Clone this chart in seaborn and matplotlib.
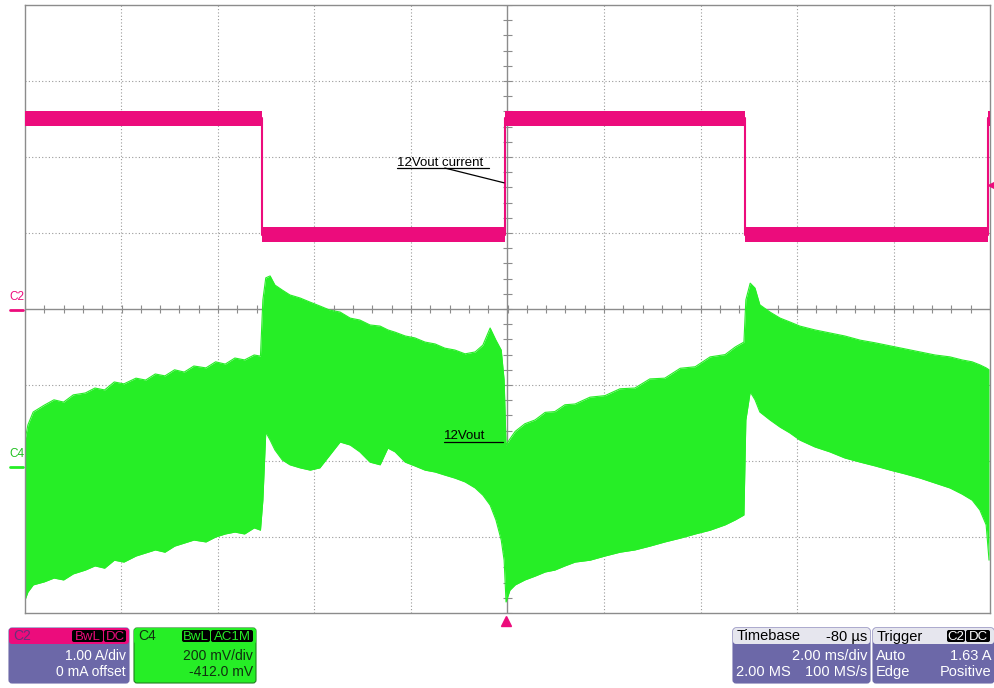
import numpy as np
import matplotlib.pyplot as plt
import seaborn as sns
from matplotlib.patches import FancyBboxPatch

sns.set_style('white')
plt.rcParams['font.family'] = ['Liberation Sans', 'DejaVu Sans']

PINK = '#ec0c7c'
GREEN = '#26ee26'
PURPLE = '#6c68a8'
GRIDC = '#9a9a9a'

# ---- C2 : 12Vout current (1.00 A/div, 0 mA offset) ----
i_edges_ms = [-5.09, -0.05, 4.92, 9.96]   # fall, rise, fall, rise
i_high = 2.51      # A
i_low = 0.98       # A
i_noise = 0.10     # half height of the noisy band, A

# ---- C4 : 12Vout ripple (200 mV/div, offset -412 mV), trace envelope ----
c4_offset_mv = -412
c4_mv_per_div = 200
v_t_ms = [-10.0, -9.94, -9.83, -9.6, -9.4, -9.2, -9.0, -8.75, -8.55, -8.35, -8.15, -7.95, -7.7,
          -7.5, -7.3, -7.1, -6.9, -6.7, -6.5, -6.25, -6.05, -5.85, -5.65, -5.45, -5.25, -5.12,
          -5.07, -5.01, -4.92, -4.82, -4.67, -4.51, -4.30, -4.09, -3.89, -3.68, -3.47, -3.26,
          -3.06, -2.85, -2.64, -2.48, -2.33, -2.12, -1.92, -1.71, -1.50, -1.30, -1.09, -0.88,
          -0.67, -0.51, -0.36, -0.24, -0.13, -0.07,
          -0.03, 0.05, 0.16, 0.36, 0.57, 0.78, 0.98, 1.19, 1.40, 1.71, 2.02, 2.33, 2.64, 2.95,
          3.26, 3.58, 3.89, 4.20, 4.51, 4.72, 4.90,
          4.94, 5.03, 5.13, 5.23, 5.44, 5.65, 5.85, 6.06, 6.37, 6.68, 6.99, 7.31, 7.62, 7.93,
          8.24, 8.55, 8.86, 9.17, 9.42, 9.63, 9.79, 9.92, 9.98]
v_hi_mv = [67, 107, 141, 159, 173, 167, 186, 191, 204, 199, 220, 215, 230,
           225, 241, 236, 252, 246, 262, 257, 273, 267, 283, 278, 291, 288,
           436, 494, 499, 475, 462, 449, 441, 430, 420, 409, 404, 388,
           383, 370, 367, 357, 351, 341, 336, 325, 320, 309, 304, 294,
           299, 317, 362, 330, 304, 225,
           54, 70, 90, 110, 120, 140, 142, 160, 162, 180, 184, 202, 204, 228,
           230, 256, 260, 286, 292, 312, 325,
           436, 480, 467, 423, 404, 388, 378, 367, 357, 349, 341, 330, 323, 315,
           307, 299, 291, 286, 278, 273, 265, 257, 252]
v_lo_mv = [-354, -333, -314, -306, -296, -301, -285, -275, -264, -270, -249, -254, -238,
           -230, -222, -228, -212, -204, -196, -201, -188, -180, -175, -180, -164, -170,
           -91, 88, 67, 41, 15, 2, -6, -12, -6, 28, 62, 54,
           36, 9, 2, 46, 36, 9, -1, -12, -17, -25, -33, -43,
           -59, -78, -104, -143, -196, -249,
           -359, -328, -314, -301, -291, -280, -275, -264, -254, -249, -238, -228, -222, -212,
           -201, -191, -180, -170, -156, -143, -130,
           120, 194, 173, 141, 120, 101, 86, 67, 49, 36, 20, 9, -1, -12,
           -22, -33, -46, -59, -75, -91, -117, -156, -249]

trig_level_a = 1.63

fig = plt.figure(figsize=(9.95, 6.88), dpi=100)
ax = fig.add_axes([25 / 995, 75 / 688, 965 / 995, 608 / 688])
ax.set_xlim(-10, 10)
ax.set_ylim(-4, 4)

# graticule
for x in np.arange(-8, 10, 2):
    if x != 0:
        ax.axvline(x, color=GRIDC, lw=0.8, ls=(0, (1, 2)), zorder=0)
for y in np.arange(-3, 4, 1):
    if y != 0:
        ax.axhline(y, color=GRIDC, lw=0.8, ls=(0, (1, 2)), zorder=0)
ax.axhline(0, color='#8c8c8c', lw=1, zorder=0)
ax.axvline(0, color='#8c8c8c', lw=1, zorder=0)
tx = np.arange(-10, 10.01, 0.4)
ax.vlines(tx, -0.053, 0.053, color='#8c8c8c', lw=0.8, zorder=0)
ty = np.arange(-4, 4.01, 0.2)
ax.hlines(ty, -0.083, 0.083, color='#8c8c8c', lw=0.8, zorder=0)
for s in ax.spines.values():
    s.set_color('#8c8c8c')
    s.set_linewidth(1)
ax.set_xticks([])
ax.set_yticks([])

# C4 trace
v_t = np.array(v_t_ms)
v_hi = np.array(v_hi_mv) / c4_mv_per_div + c4_offset_mv / c4_mv_per_div
v_lo = np.array(v_lo_mv) / c4_mv_per_div + c4_offset_mv / c4_mv_per_div
ax.fill_between(v_t, v_lo, v_hi, color=GREEN, lw=0, zorder=2)
sns.lineplot(x=v_t, y=v_hi, color=GREEN, lw=0.8, ax=ax, zorder=2)
sns.lineplot(x=v_t, y=v_lo, color=GREEN, lw=0.8, ax=ax, zorder=2)

# C2 trace (square wave with noisy band)
i_t = np.array([-10.0] + i_edges_ms + [10.0])
i_lv = np.array([i_high, i_low, i_high, i_low, i_high, i_high])
ax.fill_between(i_t, i_lv - i_noise, i_lv + i_noise, step='post', color=PINK, lw=0, zorder=3)
sns.lineplot(x=i_t, y=i_lv, color=PINK, lw=1.5, drawstyle='steps-post', ax=ax, zorder=3)

# annotations
ax.text(-2.29, 1.88, '12Vout current', fontsize=9.5, color='black', zorder=5)
ax.plot([-2.29, -0.38], [1.855, 1.855], color='black', lw=0.9, zorder=5)
ax.plot([-1.30, -0.07], [1.855, 1.66], color='black', lw=0.9, zorder=5)
ax.text(-1.32, -1.71, '12Vout', fontsize=9.5, color='black', zorder=5)
ax.plot([-1.32, -0.09], [-1.75, -1.75], color='black', lw=0.9, zorder=5)

# trigger markers
ax.plot([10.04], [trig_level_a], marker='<', color=PINK, ms=6, clip_on=False, zorder=6)
ax.plot([-0.03], [-4.11], marker='^', color=PINK, ms=7, clip_on=False, zorder=6)

# overlay in pixel units for labels and info panels
ov = fig.add_axes([0, 0, 1, 1], zorder=10)
ov.set_xlim(0, 995)
ov.set_ylim(688, 0)
ov.axis('off')
ov.patch.set_alpha(0)

ov.text(9, 303, 'C2', color=PINK, fontsize=8.5, va='bottom')
ov.plot([10, 23], [310, 310], color=PINK, lw=2)
ov.text(9, 460, 'C4', color='#20c020', fontsize=8.5, va='bottom')
ov.plot([10, 23], [467, 467], color=GREEN, lw=2)


def panel(x0, x1, head, body, edge=None):
    ov.add_patch(FancyBboxPatch((x0, 628), x1 - x0, 55, boxstyle='round,pad=0,rounding_size=3',
                                fc=body, ec=edge if edge else body, lw=0.8))
    ov.add_patch(FancyBboxPatch((x0, 628), x1 - x0, 16, boxstyle='round,pad=0,rounding_size=3',
                                fc=head, ec=head, lw=0))


def tag(x0, x1, txt, fg):
    ov.add_patch(FancyBboxPatch((x0, 630), x1 - x0, 12, boxstyle='round,pad=0,rounding_size=2',
                                fc='black', ec='black', lw=0))
    ov.text((x0 + x1) / 2, 636.5, txt, color=fg, fontsize=9.5, ha='center', va='center')


fs = 10
# C2 panel
panel(9, 129, PINK, PURPLE)
ov.text(13, 636.5, 'C2', color='#6a2f7a', fontsize=fs, va='center')
tag(72, 103, 'BwL', PINK)
tag(104, 126, 'DC', PINK)
ov.text(126, 656, '1.00 A/div', color='white', fontsize=fs, ha='right', va='center')
ov.text(126, 672, '0 mA offset', color='white', fontsize=fs, ha='right', va='center')

# C4 panel
panel(134, 256, GREEN, GREEN, edge='#208020')
ov.text(138, 636.5, 'C4', color='#103010', fontsize=fs, va='center')
tag(182, 210, 'BwL', GREEN)
tag(211, 253, 'AC1M', GREEN)
ov.text(253, 656, '200 mV/div', color='#103010', fontsize=fs, ha='right', va='center')
ov.text(253, 672, '-412.0 mV', color='#103010', fontsize=fs, ha='right', va='center')

# Timebase panel
panel(733, 870, '#e6e6ee', PURPLE)
ov.text(737, 636.5, 'Timebase', color='black', fontsize=10.5, va='center')
ov.text(867, 636.5, '-80 µs', color='black', fontsize=10.5, ha='right', va='center')
ov.text(867, 656, '2.00 ms/div', color='white', fontsize=10.5, ha='right', va='center')
ov.text(736, 672, '2.00 MS', color='white', fontsize=10.5, va='center')
ov.text(867, 672, '100 MS/s', color='white', fontsize=10.5, ha='right', va='center')

# Trigger panel
panel(873, 994, '#e6e6ee', PURPLE)
ov.text(877, 636.5, 'Trigger', color='black', fontsize=10.5, va='center')
tag(947, 965, 'C2', 'white')
tag(966, 990, 'DC', 'white')
ov.text(876, 656, 'Auto', color='white', fontsize=10.5, va='center')
ov.text(991, 656, '1.63 A', color='white', fontsize=10.5, ha='right', va='center')
ov.text(876, 672, 'Edge', color='white', fontsize=10.5, va='center')
ov.text(991, 672, 'Positive', color='white', fontsize=10.5, ha='right', va='center')

fig.savefig('out.png', dpi=100, facecolor='white')
